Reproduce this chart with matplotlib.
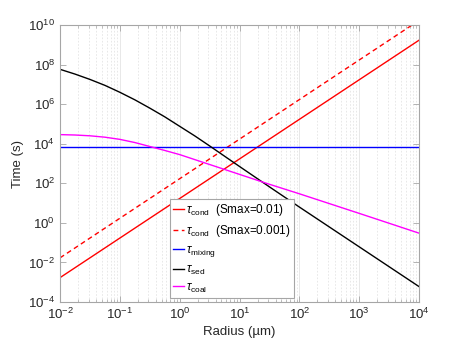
import numpy as np
import matplotlib
matplotlib.use("Agg")
import matplotlib.pyplot as plt
from matplotlib.ticker import FixedLocator, NullLocator, NullFormatter

plt.rcParams['font.family'] = ['Liberation Sans', 'DejaVu Sans']
plt.rcParams['mathtext.fontset'] = 'custom'
plt.rcParams['mathtext.rm'] = 'Liberation Sans'
plt.rcParams['mathtext.it'] = 'Liberation Sans:italic'
plt.rcParams['mathtext.cal'] = 'Liberation Sans'

# values (radius in um, time in s)
r_cond = [1e-2, 1e4]
t_cond_01 = [1.7e-3, 1.7e9]     # Smax = 0.01
t_cond_001 = [1.7e-2, 1.7e10]   # Smax = 0.001

r_mix = [1e-2, 1e4]
t_mix = [7.0e3, 7.0e3]

log_r = [-2, -1.75, -1.5, -1.25, -1, -0.75, -0.5, -0.25, 0, 0.25, 0.5, 0.75, 1, 1.5, 2, 3, 4]
log_t_sed = [7.76, 7.52, 7.25, 6.95, 6.60, 6.22, 5.80, 5.36, 4.88, 4.40, 3.89, 3.37, 2.85, 1.82, 0.80, -1.21, -3.22]
log_t_coal = [4.46, 4.44, 4.40, 4.33, 4.22, 4.06, 3.86, 3.66, 3.45, 3.20, 2.95, 2.70, 2.45, 1.95, 1.47, 0.48, -0.52]

r_curve = [10.0 ** v for v in log_r]
t_sed = [10.0 ** v for v in log_t_sed]
t_coal = [10.0 ** v for v in log_t_coal]

fig = plt.figure(figsize=(4.63, 3.40), dpi=100)
ax = fig.add_axes([60 / 463, 38 / 340, 359 / 463, 277 / 340])

ax.plot(r_cond, t_cond_01, color='#ff0000', lw=1.0,
        label=r'$\tau_{\rm cond}$  (Smax=0.01)')
ax.plot(r_cond, t_cond_001, color='#ff0000', lw=1.0, linestyle=(0, (3.5, 2.5)),
        label=r'$\tau_{\rm cond}$  (Smax=0.001)')
ax.plot(r_mix, t_mix, color='#0000ff', lw=1.0, label=r'$\tau_{\rm mixing}$')
ax.plot(r_curve, t_sed, color='black', lw=1.0, label=r'$\tau_{\rm sed}$')
ax.plot(r_curve, t_coal, color='#ff00ff', lw=1.0, label=r'$\tau_{\rm coal}$')

ax.set_xscale('log')
ax.set_yscale('log')
ax.set_xlim(1e-2, 1e4)
ax.set_ylim(1e-4, 1e10)

ax.set_xticks([10.0 ** k for k in range(-2, 5)])
minor_x = [m * 10.0 ** k for k in range(-2, 4) for m in range(2, 10)]
ax.xaxis.set_minor_locator(FixedLocator(minor_x))
ax.xaxis.set_minor_formatter(NullFormatter())
ax.set_yticks([10.0 ** k for k in range(-4, 11, 2)])
ax.yaxis.set_minor_locator(NullLocator())
ax.yaxis.set_minor_formatter(NullFormatter())

ax.grid(True, which='major', axis='x', color='#e4e4e4', lw=0.6, linestyle='-')
ax.grid(True, which='minor', axis='x', color='#e4e4e4', lw=0.6, linestyle=(0, (2, 2)))
ax.set_axisbelow(True)

for s in ax.spines.values():
    s.set_color('#a6a6a6')
    s.set_linewidth(0.8)
ax.tick_params(which='both', direction='in', top=True, right=True,
               color='#a6a6a6', labelcolor='#262626', labelsize=9.5)
ax.tick_params(which='major', length=4, width=0.6)
ax.tick_params(which='minor', length=2, width=0.5)

ax.set_xlabel('Radius (\u00b5m)', fontsize=9.5, color='#262626', labelpad=3)
ax.set_ylabel('Time (s)', fontsize=9.5, color='#262626', labelpad=3)

leg = ax.legend(loc='lower left', bbox_to_anchor=(0.306, 0.014), borderaxespad=0,
                fontsize=8.5, handlelength=0.9, handletextpad=0.2,
                labelspacing=0.4, fancybox=False, framealpha=1,
                borderpad=0.3)
leg.get_frame().set_edgecolor('#a6a6a6')
leg.get_frame().set_linewidth(0.8)

fig.savefig('out.png', dpi=100)
